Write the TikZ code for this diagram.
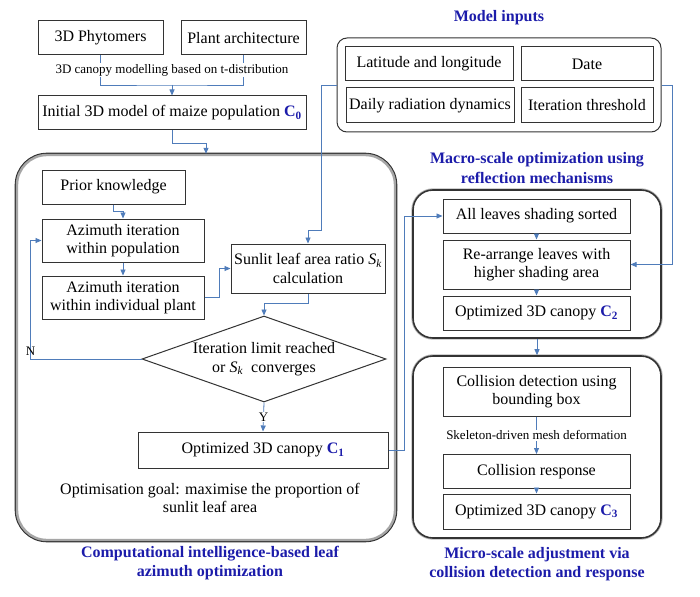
\documentclass[tikz,border=0pt]{standalone}
\usepackage{fontspec}
\setmainfont{Liberation Serif}
\usetikzlibrary{arrows.meta,shapes.geometric}
\definecolor{titleblue}{RGB}{28,28,170}
\definecolor{flowblue}{RGB}{79,124,186}

\begin{document}
\begin{tikzpicture}[x=1pt,y=-1pt,
        font=\fontsize{16}{18.5}\selectfont,
        box/.style={draw=black!80,line width=1pt,fill=white,align=center,inner sep=1pt},
        group/.style={draw=black!80,line width=1.6pt,fill=white,rounded corners=20pt,
            preaction={draw=gray!55,line width=3.4pt}},
        title/.style={text=titleblue,font=\fontsize{16}{19.5}\selectfont\bfseries,align=center},
        small/.style={font=\fontsize{13}{15}\selectfont,fill=white,inner sep=1pt},
        flow/.style={draw=flowblue,line width=0.8pt,-{Triangle[length=6pt,width=5pt]}},
        link/.style={draw=flowblue,line width=0.8pt}]
    \useasboundingbox (0,0) rectangle (700,596);

    % containers
    \node[draw=black!80,line width=1pt,fill=white,rounded corners=10pt,minimum width=324,minimum height=94] (inputs) at (499,85) {};
    \node[draw=gray!70,line width=2.4pt,fill=white,rounded corners=30pt,minimum width=378,minimum height=385,
        preaction={draw=gray!40!black,line width=4.6pt}] (azgroup) at (206,347.5) {};
    \node[group,minimum width=248,minimum height=148] (macro) at (537,264) {};
    \node[group,minimum width=248,minimum height=182] (micro) at (537,447) {};

    % titles
    \node[title] (inputtitle) at (499,18) {Model inputs};
    \node[title] (macrotitle) at (537,168) {Macro-scale optimization using\\reflection mechanisms};
    \node[title] (aztitle) at (210,563) {Computational intelligence-based leaf\\azimuth optimization};
    \node[title] (microtitle) at (537,564) {Micro-scale adjustment via\\collision detection and response};

    % initial model
    \node[box,minimum width=125,minimum height=34] (phyto) at (100.5,38) {3D Phytomers};
    \node[box,minimum width=125,minimum height=34] (arch) at (243.5,38) {Plant architecture};
    \node[box,minimum width=268,minimum height=34] (initial) at (172,113) {Initial 3D model of maize population \textbf{\color{titleblue}C\textsubscript{0}}};

    % model inputs
    \node[box,minimum width=168,minimum height=34] (latlon) at (429,64) {Latitude and longitude};
    \node[box,minimum width=132,minimum height=34] (date) at (587,64) {Date};
    \node[box,minimum width=168,minimum height=35] (radiation) at (430,105.5) {Daily radiation dynamics};
    \node[box,minimum width=132,minimum height=35] (threshold) at (587,105.5) {Iteration threshold};

    % azimuth optimization
    \node[box,minimum width=143,minimum height=34] (prior) at (113.5,187) {Prior knowledge};
    \node[box,minimum width=162,minimum height=43] (azpop) at (123,240.5) {Azimuth iteration\\within population};
    \node[box,minimum width=162,minimum height=43] (azind) at (123,297.5) {Azimuth iteration\\within individual plant};
    \node[box,minimum width=154,minimum height=49] (sunlit) at (308,268.5) {Sunlit leaf area ratio \textit{S}\textsubscript{\textit{k}}\\calculation};
    \node[box,diamond,inner sep=0pt,minimum width=244,minimum height=86,
        label={[align=center]center:Iteration limit reached\\or \textit{S}\textsubscript{\textit{k}}\ \ converges}] (cond) at (264,359) {};
    \node[box,minimum width=250,minimum height=36] (c1) at (263,450) {Optimized 3D canopy \textbf{\color{titleblue}C\textsubscript{1}}};
    \node[align=center] (goal) at (210,498) {Optimisation goal: maximise the proportion of\\sunlit leaf area};

    % macro-scale
    \node[box,minimum width=187,minimum height=34] (sorted) at (536.5,216) {All leaves shading sorted};
    \node[box,minimum width=187,minimum height=49] (rearrange) at (536.5,264.5) {Re-arrange leaves with\\higher shading area};
    \node[box,minimum width=187,minimum height=34] (c2) at (536.5,313) {Optimized 3D canopy \textbf{\color{titleblue}C\textsubscript{2}}};

    % micro-scale
    \node[box,minimum width=187,minimum height=49] (detect) at (536.5,391.5) {Collision detection using\\bounding box};
    \node[box,minimum width=187,minimum height=34] (response) at (536.5,471.5) {Collision response};
    \node[box,minimum width=187,minimum height=35] (c3) at (536.5,511.5) {Optimized 3D canopy \textbf{\color{titleblue}C\textsubscript{3}}};

    % connectors
    \coordinate (merge) at (172,85);
    \draw[link] (phyto.south) |- (merge) -| (arch.south);
    \draw[flow] (merge) -- (initial.north);
    \node[small] (canopy) at (172,70) {3D canopy modelling based on t-distribution};
    \draw[flow] (initial.south) -- ++(0,13) -| (azgroup.north);
    \draw[flow] (inputs.west) -- ++(-15,0) -- ++(0,145) -| (sunlit.north);
    \draw[flow] (inputs.east) -- ++(11,0) |- (rearrange.east);
    \draw[flow] (prior.south) -- ++(0,7) -| (azpop.north);
    \draw[flow] (azpop) -- (azind);
    \draw[flow] (azind.east) -- ++(15,0) |- (sunlit.west);
    \draw[flow] (sunlit.south) -- ++(0,10) -| (cond.north);
    \draw[flow] (cond.west) -- ++(-111,0) node[above,font=\fontsize{13}{15}\selectfont] {N} |- (azpop.west);
    \draw[flow] (cond.south) -- node[small] {Y} (c1.north);
    \draw[flow] (c1.east) -- ++(16,0) |- (sorted.west);
    \draw[flow] (sorted) -- (rearrange);
    \draw[flow] (rearrange) -- (c2);
    \draw[flow] (macro) -- (micro);
    \draw[flow] (detect) -- node[small] {Skeleton-driven mesh deformation} (response);
    \draw[flow] (response) -- (c3);
\end{tikzpicture}
\end{document}
